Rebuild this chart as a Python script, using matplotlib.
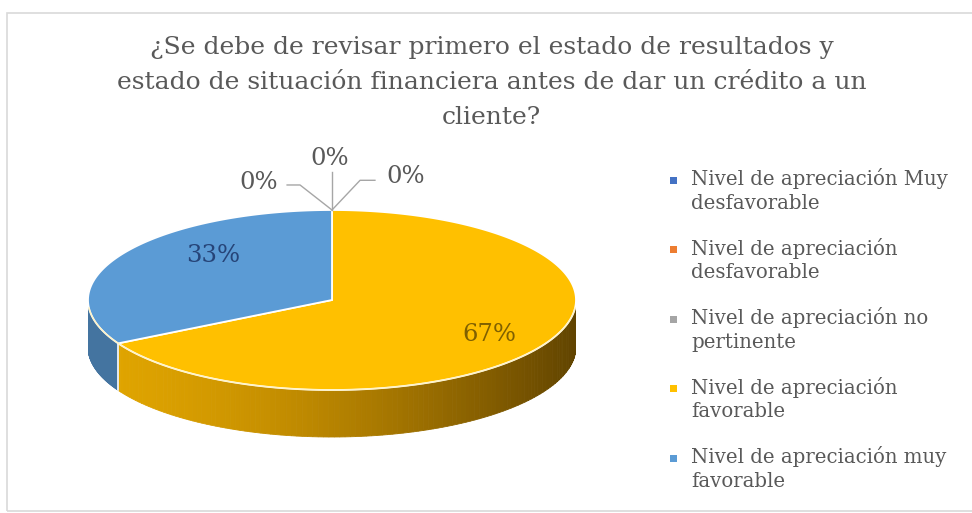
import numpy as np
import matplotlib
matplotlib.use("Agg")
import matplotlib.pyplot as plt
from matplotlib.patches import Polygon, Rectangle
from matplotlib.colors import to_rgb

# ---- data ----
title = "¿Se debe de revisar primero el estado de resultados y\nestado de situación financiera antes de dar un crédito a un\ncliente?"
categories = [
    "Nivel de apreciación Muy\ndesfavorable",
    "Nivel de apreciación\ndesfavorable",
    "Nivel de apreciación no\npertinente",
    "Nivel de apreciación\nfavorable",
    "Nivel de apreciación muy\nfavorable",
]
values = [0, 0, 0, 67, 33]
pct_labels = ["0%", "0%", "0%", "67%", "33%"]
colors = ["#4472C4", "#ED7D31", "#A5A5A5", "#FFC000", "#5B9BD5"]

TXT = "#595959"
FONT = ["DejaVu Serif"]

fig = plt.figure(figsize=(9.72, 5.13), dpi=100)
W, H = 972, 513

# chart border
fig.patches.append(Rectangle((7 / W, 0.003), 1.2, (513 - 13 - 1.5) / H, transform=fig.transFigure,
                             facecolor="none", edgecolor="#D9D9D9", lw=1.2))

fig.text(0.506, 1 - 36 / H, title, ha="center", va="top", fontsize=18, color=TXT,
         family=FONT, linespacing=1.66)

# ---- pie geometry (unit ellipse, tilted by axes aspect) ----
cx, cy, rx, ry = 332, 300, 244, 90
thick = 47 / ry
ylo, yhi = -1 - thick - 0.02, 1.75
ax = fig.add_axes([(cx - rx) / W, (H - (cy + (-ylo) * ry)) / H, 2 * rx / W, (yhi - ylo) * ry / H])
ax.set_xlim(-1, 1)
ax.set_ylim(ylo, yhi)
ax.axis("off")

total = float(sum(values))
fracs = np.array(values) / total
# clockwise from top
starts = 90 - 360 * np.concatenate([[0], np.cumsum(fracs)[:-1]])
ends = starts - 360 * fracs


def arc(a0, a1, n=200):
    t = np.radians(np.linspace(a0, a1, n))
    return np.cos(t), np.sin(t)


def shade(c, f):
    r, g, b = to_rgb(c)
    return (r * f, g * f, b * f)


# side walls (only the front half, 180..360 deg)
for v, s, e, c in zip(values, starts, ends, colors):
    if v == 0:
        continue
    lo, hi = e, s
    for off in (0, 360, -360):
        a0, a1 = max(lo + off, 180), min(hi + off, 360)
        if a1 <= a0:
            continue
        nseg = 120
        edges = np.linspace(a0, a1, nseg + 1)
        for i in range(nseg):
            xs, ys = arc(edges[i], edges[i + 1], 6)
            poly = np.column_stack([np.concatenate([xs, xs[::-1]]),
                                    np.concatenate([ys, ys[::-1] - thick])])
            xm = np.cos(np.radians((edges[i] + edges[i + 1]) / 2))
            if c == "#FFC000":
                tpos = (xm + 1) / 2
                f = 0.88 - 0.50 * tpos ** 1.6
                col = shade("#FFC000", f)
                col = (min(col[0], 1), col[1] * (0.98 - 0.05 * tpos), col[2])
            else:
                col = shade(c, 0.75)
            ax.add_patch(Polygon(poly, closed=True, facecolor=col, edgecolor=col, lw=0.6, zorder=1))

# boundary line on side at slice edge
for v, s, c in zip(values, starts, colors):
    a = s % 360
    if v > 0 and 180 < a < 360:
        x0, y0 = np.cos(np.radians(a)), np.sin(np.radians(a))
        ax.plot([x0, x0], [y0, y0 - thick], color="white", lw=1.2, zorder=2)

# top surface
for v, s, e, c in zip(values, starts, ends, colors):
    if v == 0:
        continue
    xs, ys = arc(s, e, 300)
    poly = np.column_stack([np.concatenate([[0], xs]), np.concatenate([[0], ys])])
    ax.add_patch(Polygon(poly, closed=True, facecolor=c, edgecolor="white", lw=1.3, zorder=3))

# front highlight rim
xs, ys = arc(185, 355, 200)
ax.plot(xs, ys, color="#FFF2C0", lw=1.0, zorder=4, alpha=0.9)

# ---- labels ----
label_pos = {3: (0.75, 0.0, 0.0), 4: (0.66, 0.08, 0.16)}
label_cols = {3: "#7F6000", 4: "#264478"}
zero_label_xy = [(-0.30, 1.30), (-0.01, 1.57), (0.30, 1.37)]
zero_elbows = [[(0, 1), (-0.131, 1.278), (-0.184, 1.278)],
               [(0, 1), (0, 1.42)],
               [(0, 1), (0.115, 1.33), (0.176, 1.33)]]
zi = 0
for i, (v, s, e, lab) in enumerate(zip(values, starts, ends, pct_labels)):
    if v == 0:
        pts = np.array(zero_elbows[zi])
        ax.plot(pts[:, 0], pts[:, 1], color="#A6A6A6", lw=1.0, zorder=5, clip_on=False)
        lx, ly = zero_label_xy[zi]
        ax.text(lx, ly, lab, ha="center", va="center", fontsize=17.5, color=TXT, family=FONT, zorder=6)
        zi += 1
    else:
        m = np.radians((s + e) / 2)
        r, dx, dy = label_pos[i]
        ax.text(r * np.cos(m) + dx, r * np.sin(m) + dy, lab, ha="center", va="center",
                fontsize=17.5, color=label_cols[i], family=FONT, zorder=6)

# ---- legend (manual, to keep marker aligned with first line) ----
lx_mark, lx_text = 673, 691
y0, step = 180, 69.5
for k, (cat, c) in enumerate(zip(categories, colors)):
    yy = y0 + k * step
    fig.patches.append(Rectangle(((lx_mark - 3.5) / W, 1 - (yy + 3.5) / H), 7 / W, 7 / H,
                                 transform=fig.transFigure, facecolor=c, edgecolor="none"))
    fig.text(lx_text / W, 1 - (yy - 12) / H, cat, ha="left", va="top", fontsize=14.2, color=TXT,
             family=FONT, linespacing=1.32)

fig.savefig("out.png", dpi=100)
